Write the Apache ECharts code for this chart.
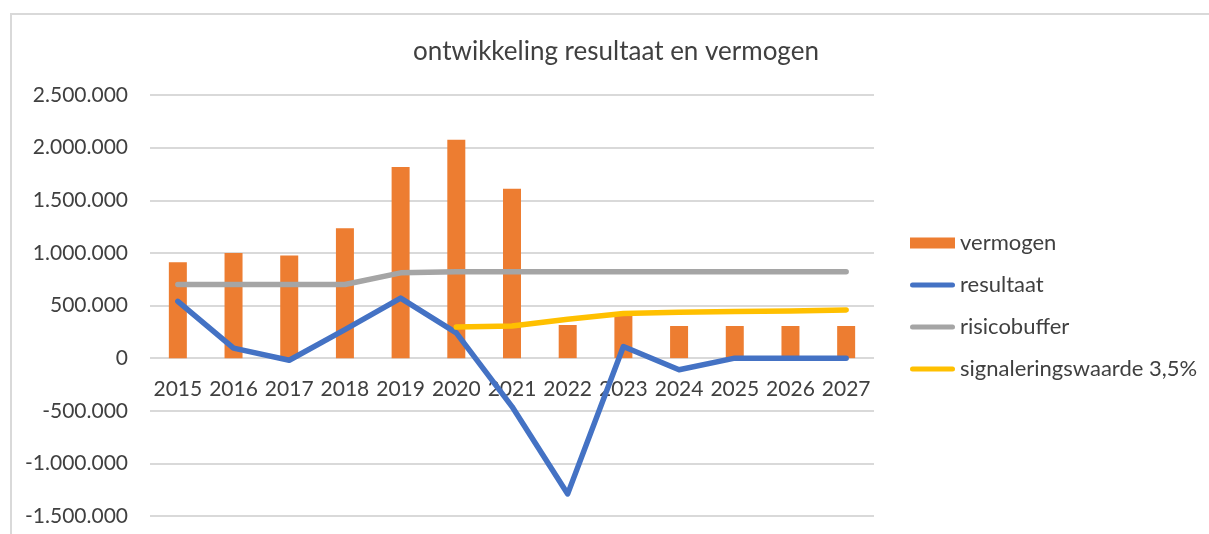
<!DOCTYPE html>
<html>
<head>
<meta charset="utf-8">
<script src="https://cdn.jsdelivr.net/npm/echarts@6/dist/echarts.min.js"></script>
<style>
html,body{margin:0;padding:0;background:#fff;}
#chart{width:1209px;height:534px;}
</style>
</head>
<body>
<div id="chart"></div>
<script>
const titleText = 'ontwikkeling resultaat en vermogen';
const years = ['2015','2016','2017','2018','2019','2020','2021','2022','2023','2024','2025','2026','2027'];
const vermogen = [910000, 1000000, 975000, 1235000, 1815000, 2075000, 1610000, 315000, 405000, 305000, 305000, 305000, 305000];
const resultaat = [540000, 95000, -20000, 270000, 570000, 240000, -460000, -1290000, 110000, -110000, 0, 0, 0];
const risicobuffer = [700000, 700000, 700000, 700000, 810000, 820000, 820000, 820000, 820000, 820000, 820000, 820000, 820000];
const signalering = [null, null, null, null, null, 295000, 305000, 370000, 425000, 435000, 442000, 448000, 458000];
const seriesNames = ['vermogen', 'resultaat', 'risicobuffer', 'signaleringswaarde 3,5%'];
const yMin = -1500000, yMax = 2500000, yStep = 500000;

function fmt(v) {
  const s = Math.abs(v).toString().replace(/\B(?=(\d{3})+(?!\d))/g, '.');
  return (v < 0 ? '-' : '') + s;
}

const W = 1209, H = 534;
const GRID = {left: 150, right: 335, top: 95, bottom: 18};
// place the category labels just under the zero line (Excel style)
const gridH = H - GRID.top - GRID.bottom;
const zeroOffset = gridH * (0 - yMin) / (yMax - yMin);

const FONT = 'Lato';
const TXT = '#404040';
const LINE_ICON = 'path://M2.5,0 L42.5,0 A2.5,2.5 0 0 1 42.5,5 L2.5,5 A2.5,2.5 0 0 1 2.5,0 Z';
const chart = echarts.init(document.getElementById('chart'), null, {renderer: 'canvas'});
const lineCommon = {
  type: 'line', symbol: 'none', showSymbol: false, smooth: false,
  connectNulls: false
};
chart.setOption({
  animation: false,
  backgroundColor: '#fff',
  textStyle: {fontFamily: FONT},
  graphic: [{
    type: 'rect', silent: true, z: -10,
    shape: {x: 11, y: 14, width: 1260, height: 600},
    style: {fill: 'none', stroke: '#d9d9d9', lineWidth: 2}
  }],
  title: {
    text: titleText, left: 611, top: 34, textAlign: 'center',
    textStyle: {fontFamily: FONT, fontSize: 26, fontWeight: 'normal', color: TXT}
  },
  grid: Object.assign({containLabel: false, outerBoundsMode: 'none'}, GRID),
  legend: {
    orient: 'vertical', left: 905, top: 227,
    itemWidth: 45, itemHeight: 11, itemGap: 20, symbolKeepAspect: true,
    textStyle: {fontFamily: FONT, fontSize: 22, color: TXT},
    data: [
      {name: seriesNames[0], icon: 'rect'},
      {name: seriesNames[1], icon: LINE_ICON},
      {name: seriesNames[2], icon: LINE_ICON},
      {name: seriesNames[3], icon: LINE_ICON}
    ]
  },
  xAxis: {
    type: 'category', data: years, position: 'bottom', offset: -zeroOffset,
    axisLine: {show: false, onZero: false},
    axisTick: {show: false},
    axisLabel: {fontFamily: FONT, fontSize: 21, color: TXT, margin: 21, interval: 0},
    splitLine: {show: false}
  },
  yAxis: {
    type: 'value', min: yMin, max: yMax, interval: yStep,
    axisLine: {show: false}, axisTick: {show: false},
    axisLabel: {fontFamily: FONT, fontSize: 21, color: TXT, margin: 22, formatter: fmt},
    splitLine: {lineStyle: {color: '#d9d9d9', width: 2}}
  },
  series: [
    {name: seriesNames[0], type: 'bar', data: vermogen, barWidth: 18,
     itemStyle: {color: '#ED7D31'}},
    Object.assign({name: seriesNames[1], data: resultaat,
     lineStyle: {color: '#4472C4', width: 5.5, cap: 'round', join: 'round'},
     itemStyle: {color: '#4472C4'}}, lineCommon),
    Object.assign({name: seriesNames[2], data: risicobuffer,
     lineStyle: {color: '#A5A5A5', width: 5.5, cap: 'round', join: 'round'},
     itemStyle: {color: '#A5A5A5'}}, lineCommon),
    Object.assign({name: seriesNames[3], data: signalering,
     lineStyle: {color: '#FFC000', width: 5.5, cap: 'round', join: 'round'},
     itemStyle: {color: '#FFC000'}}, lineCommon)
  ]
});
</script>
</body>
</html>
